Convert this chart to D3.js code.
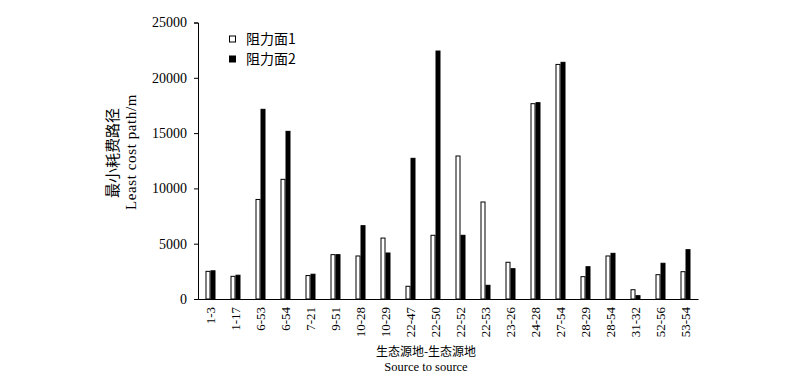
<!DOCTYPE html>
<html>
<head>
<meta charset="utf-8">
<script src="https://cdn.jsdelivr.net/npm/d3@7"></script>
<style>
  body { margin: 0; background: #fff; }
  svg text { font-family: "Liberation Serif", "Times New Roman", serif; fill: #000; }
  .cjk { font-family: "Noto Sans CJK SC", serif; }
</style>
</head>
<body>
<svg id="chart"></svg>
<script>
// 数据
const categories = ['1-3', '1-17', '6-53', '6-54', '7-21', '9-51', '10-28', '10-29', '22-47', '22-50',
  '22-52', '22-53', '23-26', '24-28', '27-54', '28-29', '28-54', '31-32', '52-56', '53-54'];
const surface1 = [2500, 2050, 9000, 10820, 2120, 4010, 3890, 5510, 1150, 5760,
  12930, 8770, 3320, 17660, 21210, 2020, 3890, 840, 2200, 2470];
const surface2 = [2550, 2150, 17150, 15160, 2240, 4010, 6630, 4160, 12720, 22420,
  5760, 1240, 2740, 17750, 21400, 2920, 4130, 300, 3230, 4460];
const seriesNames = ['阻力面1', '阻力面2'];
const yTicks = [0, 5000, 10000, 15000, 20000, 25000];

const width = 800, height = 385;
const margin = { top: 22.5, right: 102, bottom: 86, left: 198 };

const svg = d3.select('#chart').attr('width', width).attr('height', height);

const x = d3.scaleBand()
  .domain(categories)
  .range([margin.left, width - margin.right]);

const xSub = d3.scaleBand()
  .domain([0, 1])
  .range([0, 10]);

const y = d3.scaleLinear()
  .domain([0, 25000])
  .range([height - margin.bottom, margin.top]);

// 柱子
const series = [
  { values: surface1, fill: '#fff' },
  { values: surface2, fill: '#000' }
];
series.forEach((s, i) => {
  svg.append('g')
    .selectAll('rect')
    .data(categories)
    .join('rect')
    .attr('x', d => x(d) + x.bandwidth() / 2 - 5 + xSub(i) + 0.5)
    .attr('y', (d, j) => y(s.values[j]))
    .attr('width', xSub.bandwidth() - 1)
    .attr('height', (d, j) => y(0) - y(s.values[j]))
    .attr('fill', s.fill)
    .attr('stroke', '#000')
    .attr('stroke-width', 1);
});

// 坐标轴
const yAxis = svg.append('g')
  .attr('transform', `translate(${margin.left},0)`)
  .call(d3.axisLeft(y).tickValues(yTicks).tickFormat(d3.format('d')).tickSize(4).tickPadding(7));
yAxis.select('.domain').attr('stroke', '#000');
yAxis.selectAll('text').attr('font-size', '14px').attr('font-family', '"Liberation Serif", serif');

const xAxis = svg.append('g')
  .attr('transform', `translate(0,${height - margin.bottom})`)
  .call(d3.axisBottom(x).tickSize(0).tickPadding(0).tickSizeOuter(0));
xAxis.select('.domain').attr('stroke', '#000');
xAxis.selectAll('text')
  .attr('font-size', '13px')
  .attr('font-family', '"Liberation Serif", serif')
  .attr('text-anchor', 'end')
  .attr('dy', '0.35em')
  .attr('transform', 'translate(0,8) rotate(-90)');

// 轴标题
svg.append('text').attr('class', 'cjk')
  .attr('transform', 'translate(113,153) rotate(-90)')
  .attr('text-anchor', 'middle').attr('dy', '0.35em')
  .attr('font-size', '15px').attr('fill', '#000').text('最小耗费路径');
svg.append('text')
  .attr('transform', 'translate(131,152) rotate(-90)')
  .attr('text-anchor', 'middle').attr('dy', '0.35em')
  .attr('font-size', '15px').attr('letter-spacing', '0.6px').attr('fill', '#000')
  .text('Least cost path/m');

svg.append('text').attr('class', 'cjk').attr('x', 426).attr('y', 352).attr('dy', '0.35em')
  .attr('text-anchor', 'middle').attr('font-size', '12px').attr('fill', '#000').text('生态源地-生态源地');
svg.append('text').attr('x', 426).attr('y', 367).attr('dy', '0.35em')
  .attr('text-anchor', 'middle').attr('font-size', '12.5px').text('Source to source');

// 图例
const legend = svg.append('g').attr('transform', 'translate(229,39)');
seriesNames.forEach((name, i) => {
  const row = legend.append('g').attr('transform', `translate(0,${i * 20})`);
  row.append('rect')
    .attr('x', 0.5).attr('y', -3).attr('width', 6).attr('height', 6)
    .attr('fill', series[i].fill).attr('stroke', '#000');
  row.append('text')
    .attr('class', 'cjk')
    .attr('x', 17).attr('dy', '0.35em')
    .attr('font-size', '14px')
    .text(name);
});
</script>
</body>
</html>
